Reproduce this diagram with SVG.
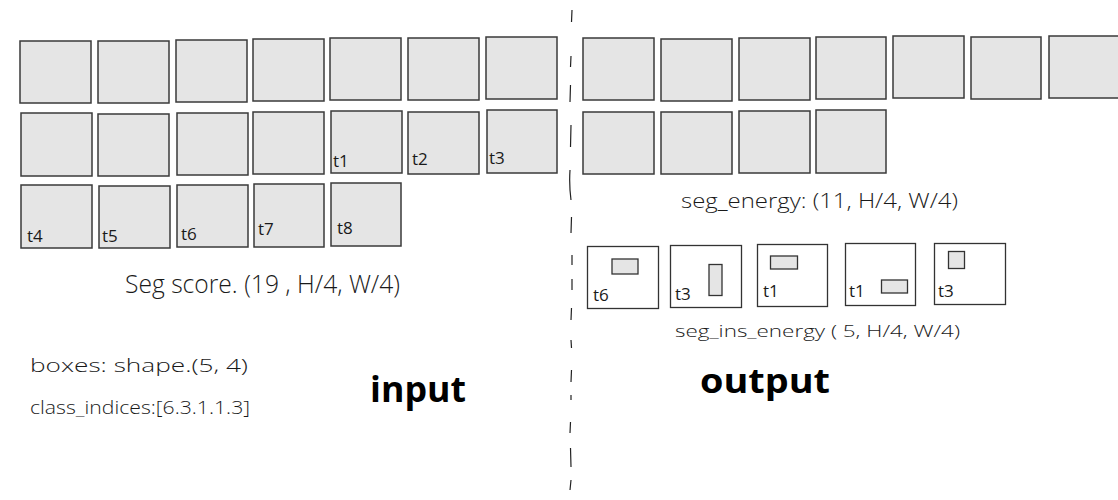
<svg xmlns="http://www.w3.org/2000/svg" width="1118" height="500" viewBox="0 0 1118 500">
<style>
.cell{fill:#e5e5e5;stroke:#3a3a3a;stroke-width:1.5}
.frame{fill:#ffffff;stroke:#333333;stroke-width:1.3}
.inner{fill:#e5e5e5;stroke:#333333;stroke-width:1.3}
text{font-family:"Open Sans","Liberation Sans",sans-serif;fill:#1a1a1a}
.lbl{font-size:17px;font-weight:400}
.cap{font-weight:300}
.big{font-weight:700;fill:#000}
.div{fill:none;stroke:#222;stroke-width:1.2}
</style>
<rect width="1118" height="500" fill="#ffffff"/>

<g id="input-grid">
<g id="in-r1">
<rect class="cell" x="20" y="41" width="71" height="62"/>
<rect class="cell" x="98" y="41" width="71" height="62"/>
<rect class="cell" x="176" y="40" width="71" height="62"/>
<rect class="cell" x="253" y="39" width="71" height="62"/>
<rect class="cell" x="330" y="38" width="71" height="62"/>
<rect class="cell" x="408" y="38" width="71" height="62"/>
<rect class="cell" x="486" y="37" width="71" height="62"/>
</g>
<g id="in-r2">
<rect class="cell" x="21" y="113" width="71" height="63"/>
<rect class="cell" x="98" y="114" width="71" height="62"/>
<rect class="cell" x="177" y="113" width="71" height="62"/>
<rect class="cell" x="253" y="112" width="71" height="62"/>
<g id="in-t1"><rect class="cell" x="331" y="111" width="71" height="62"/><text class="lbl" x="333" y="167">t1</text></g>
<g id="in-t2"><rect class="cell" x="408" y="112" width="71" height="62"/><text class="lbl" x="412" y="165">t2</text></g>
<g id="in-t3"><rect class="cell" x="487" y="110" width="70" height="63"/><text class="lbl" x="489" y="164">t3</text></g>
</g>
<g id="in-r3">
<g id="in-t4"><rect class="cell" x="21" y="185" width="71" height="63"/><text class="lbl" x="27" y="242">t4</text></g>
<g id="in-t5"><rect class="cell" x="99" y="186" width="71" height="62"/><text class="lbl" x="102" y="242">t5</text></g>
<g id="in-t6"><rect class="cell" x="177" y="185" width="71" height="62"/><text class="lbl" x="181" y="240">t6</text></g>
<g id="in-t7"><rect class="cell" x="254" y="184" width="70" height="63"/><text class="lbl" x="258" y="235">t7</text></g>
<g id="in-t8"><rect class="cell" x="331" y="183" width="70" height="63"/><text class="lbl" x="337" y="234">t8</text></g>
</g>
</g>

<g id="output-grid">
<rect class="cell" x="583" y="38" width="71" height="62"/>
<rect class="cell" x="661" y="39" width="71" height="62"/>
<rect class="cell" x="739" y="38" width="71" height="62"/>
<rect class="cell" x="816" y="37" width="70" height="62"/>
<rect class="cell" x="893" y="36" width="71" height="62"/>
<rect class="cell" x="971" y="37" width="70" height="62"/>
<rect class="cell" x="1049" y="36" width="71" height="62"/>
<rect class="cell" x="583" y="112" width="71" height="62"/>
<rect class="cell" x="661" y="112" width="71" height="62"/>
<rect class="cell" x="739" y="111" width="71" height="62"/>
<rect class="cell" x="816" y="110" width="70" height="63"/>
</g>

<g id="ins-boxes">
<g id="ins-1"><rect class="frame" x="587.5" y="246.5" width="71" height="62"/><rect class="inner" x="612" y="259" width="26" height="15"/><text class="lbl" x="593" y="301">t6</text></g>
<g id="ins-2"><rect class="frame" x="670.5" y="245.5" width="71" height="62"/><rect class="inner" x="709" y="264.5" width="13" height="31"/><text class="lbl" x="675" y="300">t3</text></g>
<g id="ins-3"><rect class="frame" x="757.5" y="244.5" width="70" height="62"/><rect class="inner" x="770.5" y="256" width="27" height="13"/><text class="lbl" x="763" y="297">t1</text></g>
<g id="ins-4"><rect class="frame" x="845.5" y="243.5" width="70" height="62"/><rect class="inner" x="881.5" y="280" width="26" height="13"/><text class="lbl" x="849" y="297">t1</text></g>
<g id="ins-5"><rect class="frame" x="934.5" y="243.5" width="71" height="61"/><rect class="inner" x="948.5" y="251.5" width="16" height="17"/><text class="lbl" x="938" y="297">t3</text></g>
</g>

<g id="connectors">
<path class="div" d="M572 10 L571.5 22 M571 56 L570.5 67 M570.5 85 L570 102 M571 125 L570.5 147 M570 170 Q569 185 571 200 M571.5 217 L571 233 M572 255 L572 265 M572 279 L572 290 M571.5 308 L571 320 M571 340 L571.5 348 M571.5 370 L571 382 M571 395 L571 400 M570.5 422 L570 433 M570.5 448 L571 467 M571 480 L570 490"/>
</g>

<g id="captions">
<text class="cap" x="125" y="293" font-size="26" textLength="275" lengthAdjust="spacingAndGlyphs">Seg score. (19 , H/4, W/4)</text>
<text class="cap" x="681" y="208" font-size="21" textLength="277" lengthAdjust="spacingAndGlyphs">seg_energy:  (11, H/4, W/4)</text>
<text class="cap" x="675" y="337" font-size="17" textLength="285" lengthAdjust="spacingAndGlyphs">seg_ins_energy  ( 5,  H/4, W/4)</text>
<text class="cap" x="30" y="372" font-size="18" textLength="218" lengthAdjust="spacingAndGlyphs">boxes:  shape.(5, 4)</text>
<text class="cap" x="30" y="414" font-size="18" textLength="220" lengthAdjust="spacingAndGlyphs">class_indices:[6.3.1.1.3]</text>
<text class="big" x="370" y="402" font-size="36" textLength="96" lengthAdjust="spacingAndGlyphs">input</text>
<text class="big" x="700" y="393" font-size="34" textLength="130" lengthAdjust="spacingAndGlyphs">output</text>
</g>
</svg>
